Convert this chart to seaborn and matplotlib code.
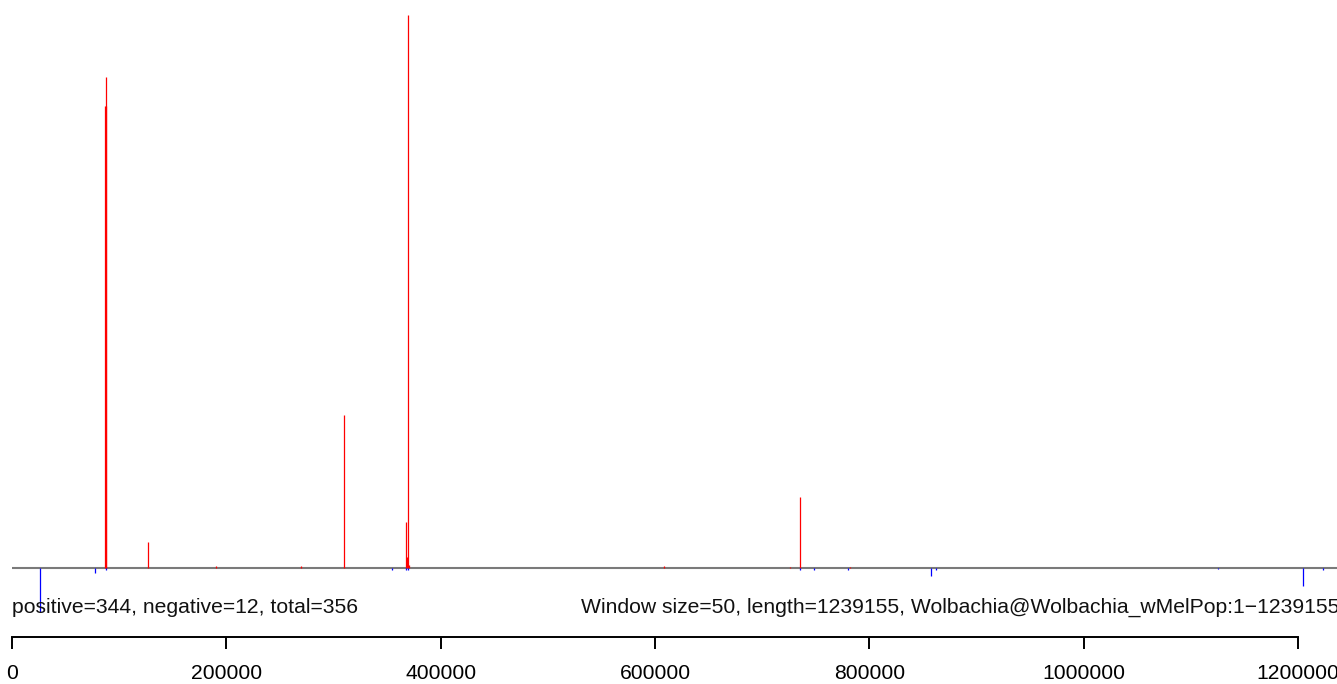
import matplotlib
matplotlib.use("Agg")
import matplotlib.pyplot as plt
import seaborn as sns
import numpy as np
import pandas as pd

# ---- data ----
GENOME_LEN = 1239155
WINDOW = 50
seq_name = "Wolbachia@Wolbachia_wMelPop"
n_positive, n_negative = 344, 12

pos_positions = [87060, 87520, 88090, 127180, 190630, 269940, 310070,
                 367640, 368850, 369790, 370440, 608660, 726220, 735550, 781920]
pos_values = [462, 462, 491, 26, 2, 2, 153,
              46, 11, 553, 3, 2, 1.5, 71, 1.5]

neg_positions = [26410, 77910, 88010, 354850, 367920, 369790, 735550,
                 748610, 780350, 857790, 862460, 1125050, 1204350, 1223570]
neg_values = [44, 5, 2, 1.5, 2, 2, 2,
              1.5, 1.5, 8, 1.5, 1, 18, 2]

ruler_ticks = [0, 200000, 400000, 600000, 800000, 1000000, 1200000]

# ---- style ----
sns.set_theme(style="white")
plt.rcParams["font.family"] = ["Liberation Sans", "DejaVu Sans"]
FS = 15.25

W, H = 1337, 684
fig = plt.figure(figsize=(W / 100, H / 100), dpi=100)
XW = 1328 / W  # genome length spans ~1328 px

# main spike panel (baseline at y=568 px)
ax = fig.add_axes([12 / W, 64 / H, XW, 620 / H])
ax.set_xlim(0, GENOME_LEN)
ax.set_ylim(-52, 568)
ax.axis("off")

base = pd.DataFrame({"x": [0, GENOME_LEN], "y": [0, 0]})
sns.lineplot(data=base, x="x", y="y", ax=ax, color="#7a7a7a", linewidth=1.5)

ax.vlines(pos_positions, 0, pos_values, colors="#ff0000", linewidth=0.9)
ax.vlines(neg_positions, 0, -np.array(neg_values), colors="#0000ff", linewidth=0.9)

# ruler axis
ax2 = fig.add_axes([12 / W, (H - 637) / H, XW, 0.02])
ax2.set_xlim(0, GENOME_LEN)
ax2.set_yticks([])
for s in ["top", "left", "right"]:
    ax2.spines[s].set_visible(False)
ax2.spines["bottom"].set_bounds(0, 1200000)
ax2.spines["bottom"].set_linewidth(1.4)
ax2.spines["bottom"].set_color("black")
ax2.set_xticks(ruler_ticks)
ax2.set_xticklabels([str(t) for t in ruler_ticks], fontsize=FS)
ax2.tick_params(axis="x", direction="out", length=8.6, width=1.4, pad=11,
                bottom=True, colors="black")
ax2.patch.set_alpha(0)

# annotations
fig.text(12 / W, (H - 612.7) / H,
         f"positive={n_positive}, negative={n_negative}, total={n_positive + n_negative}",
         ha="left", va="baseline", fontsize=FS, color="#111111")
fig.text(1339 / W, (H - 612.7) / H,
         f"Window size={WINDOW}, length={GENOME_LEN}, {seq_name}:1\u2212{GENOME_LEN}",
         ha="right", va="baseline", fontsize=FS, color="#111111")

fig.savefig("out.png", dpi=100, facecolor="white")
